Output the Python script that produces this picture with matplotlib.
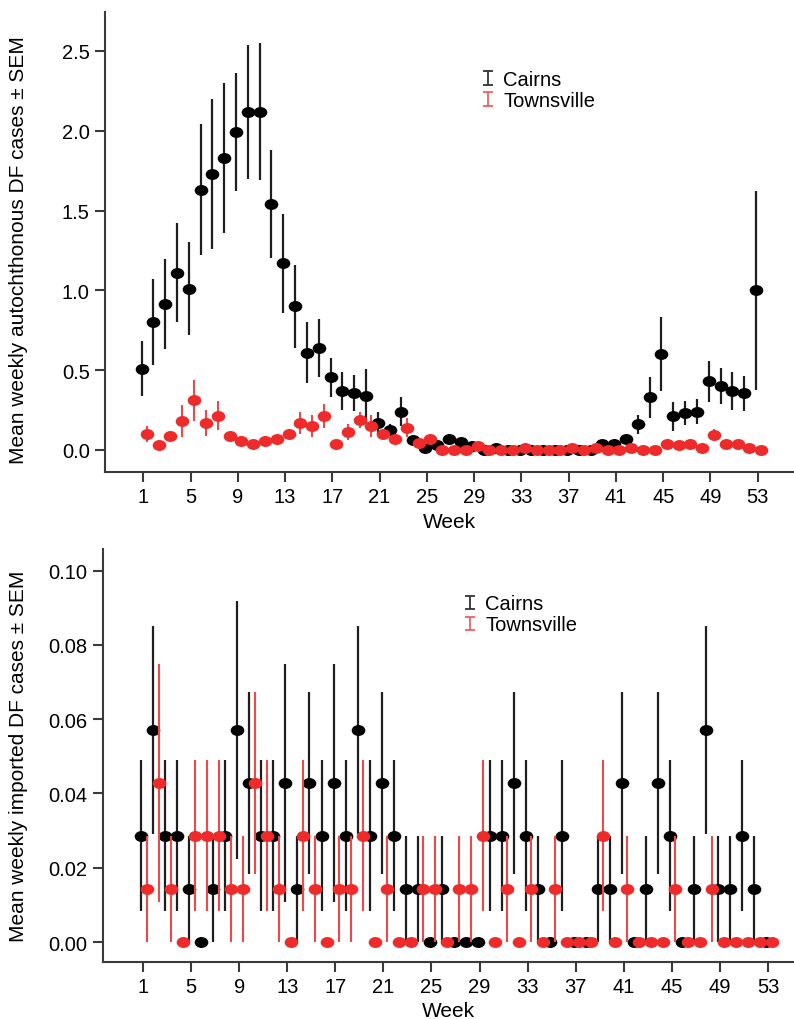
import numpy as np
import matplotlib
matplotlib.use('Agg')
import matplotlib.pyplot as plt
from matplotlib.path import Path
from matplotlib.transforms import Affine2D
from matplotlib.legend_handler import HandlerErrorbar
from matplotlib.container import ErrorbarContainer

plt.rcParams['font.family'] = ['Liberation Sans', 'DejaVu Sans']

weeks = np.arange(1, 54)
tick_weeks = list(range(1, 54, 4))

# Top panel: autochthonous cases
cairns_auto = [0.51, 0.80, 0.915, 1.11, 1.01, 1.63, 1.73, 1.83, 1.99, 2.12,
               2.12, 1.54, 1.17, 0.90, 0.61, 0.64, 0.455, 0.37, 0.357, 0.34,
               0.17, 0.125, 0.24, 0.06, 0.01, 0.03, 0.07, 0.05, 0.027, 0.0,
               0.01, 0.0, 0.0, 0.0, 0.0, 0.0, 0.0, 0.0, 0.0, 0.04,
               0.04, 0.07, 0.16, 0.33, 0.60, 0.21, 0.23, 0.24, 0.43, 0.40,
               0.37, 0.355, 1.00]
cairns_auto_sem = [0.17, 0.27, 0.28, 0.31, 0.29, 0.41, 0.47, 0.47, 0.37, 0.42,
                   0.43, 0.34, 0.31, 0.26, 0.19, 0.18, 0.12, 0.12, 0.11, 0.17,
                   0.07, 0.04, 0.09, 0.02, 0.01, 0.01, 0.02, 0.01, 0.01, 0.0,
                   0.01, 0.0, 0.0, 0.0, 0.0, 0.0, 0.01, 0.0, 0.0, 0.01,
                   0.02, 0.02, 0.06, 0.13, 0.23, 0.09, 0.075, 0.08, 0.13, 0.115,
                   0.12, 0.11, 0.625]
townsville_auto = [0.10, 0.03, 0.085, 0.18, 0.31, 0.17, 0.215, 0.085, 0.055, 0.04,
                   0.055, 0.07, 0.10, 0.17, 0.15, 0.215, 0.04, 0.11, 0.19, 0.15,
                   0.10, 0.07, 0.14, 0.045, 0.07, 0.0, 0.0, 0.0, 0.027, 0.0,
                   0.0, 0.0, 0.013, 0.0, 0.0, 0.0, 0.013, 0.0, 0.01, 0.0,
                   0.0, 0.015, 0.0, 0.0, 0.04, 0.03, 0.04, 0.015, 0.095, 0.04,
                   0.04, 0.015, 0.0]
townsville_auto_sem = [0.05, 0.01, 0.03, 0.10, 0.13, 0.08, 0.09, 0.03, 0.02, 0.015,
                       0.03, 0.02, 0.03, 0.07, 0.07, 0.075, 0.02, 0.05, 0.05, 0.07,
                       0.03, 0.02, 0.06, 0.01, 0.02, 0.0, 0.0, 0.0, 0.01, 0.0,
                       0.0, 0.0, 0.0, 0.0, 0.0, 0.0, 0.0, 0.0, 0.0, 0.0,
                       0.0, 0.0, 0.0, 0.0, 0.01, 0.01, 0.01, 0.0, 0.035, 0.01,
                       0.01, 0.0, 0.0]

# Bottom panel: imported cases
cairns_imp = [0.0286, 0.0571, 0.0286, 0.0286, 0.0143, 0.0, 0.0143, 0.0286, 0.0571, 0.0429,
              0.0286, 0.0286, 0.0429, 0.0143, 0.0429, 0.0286, 0.0429, 0.0286, 0.0571, 0.0286,
              0.0429, 0.0286, 0.0143, 0.0143, 0.0, 0.0143, 0.0, 0.0, 0.0, 0.0286,
              0.0286, 0.0429, 0.0286, 0.0143, 0.0, 0.0286, 0.0, 0.0, 0.0143, 0.0143,
              0.0429, 0.0, 0.0143, 0.0429, 0.0286, 0.0, 0.0143, 0.0571, 0.0143, 0.0143,
              0.0286, 0.0143, 0.0]
cairns_imp_sem = [0.0203, 0.028, 0.0203, 0.0203, 0.0143, 0.0, 0.0143, 0.0203, 0.0347, 0.0245,
                  0.0203, 0.0203, 0.032, 0.0143, 0.0245, 0.0203, 0.032, 0.0203, 0.028, 0.0203,
                  0.0245, 0.0203, 0.0143, 0.0143, 0.0, 0.0143, 0.0, 0.0, 0.0, 0.0203,
                  0.0203, 0.0245, 0.0203, 0.0143, 0.0, 0.0203, 0.0, 0.0, 0.0143, 0.0143,
                  0.0245, 0.0, 0.0143, 0.0245, 0.0203, 0.0, 0.0143, 0.028, 0.0143, 0.0143,
                  0.0203, 0.0143, 0.0]
townsville_imp = [0.0143, 0.0429, 0.0143, 0.0, 0.0286, 0.0286, 0.0286, 0.0143, 0.0143, 0.0429,
                  0.0286, 0.0143, 0.0, 0.0286, 0.0143, 0.0, 0.0143, 0.0143, 0.0286, 0.0,
                  0.0143, 0.0, 0.0, 0.0143, 0.0143, 0.0, 0.0143, 0.0143, 0.0286, 0.0,
                  0.0143, 0.0, 0.0143, 0.0, 0.0143, 0.0, 0.0, 0.0, 0.0286, 0.0,
                  0.0143, 0.0, 0.0, 0.0, 0.0143, 0.0, 0.0, 0.0143, 0.0, 0.0,
                  0.0, 0.0, 0.0]
townsville_imp_sem = [0.0143, 0.032, 0.0143, 0.0, 0.0203, 0.0203, 0.0203, 0.0143, 0.0143, 0.0245,
                      0.0203, 0.0143, 0.0, 0.0203, 0.0143, 0.0, 0.0143, 0.0143, 0.0203, 0.0,
                      0.0143, 0.0, 0.0, 0.0143, 0.0143, 0.0, 0.0143, 0.0143, 0.0203, 0.0,
                      0.0143, 0.0, 0.0143, 0.0, 0.0143, 0.0, 0.0, 0.0, 0.0203, 0.0,
                      0.0143, 0.0, 0.0, 0.0, 0.0143, 0.0, 0.0, 0.0143, 0.0, 0.0,
                      0.0, 0.0, 0.0]

series_names = ['Cairns', 'Townsville']

BLACK = '#000000'
BLACK_BAR = '#1e1e1e'
RED = '#ee2a2a'
RED_BAR = '#f04848'
SPINE = '#3a3a3a'

ellipse = Path.unit_circle().transformed(Affine2D().scale(1.0, 0.78))

W, H = 794, 1020
fig = plt.figure(figsize=(W / 100, H / 100), dpi=100)


def axes_box(left, top, bottom):
    return [left / W, 1 - bottom / H, 1 - left / W, (bottom - top) / H]


ax1 = fig.add_axes(axes_box(105, 13, 473))
ax2 = fig.add_axes(axes_box(103, 550, 963))

x = np.asarray(weeks, dtype=float)


def draw(ax, c_mean, c_sem, t_mean, t_sem, ms):
    ax.errorbar(x - 0.15, c_mean, yerr=c_sem, fmt='none', ecolor=BLACK_BAR,
                elinewidth=1.6, capsize=0, zorder=2)
    ax.plot(x - 0.15, c_mean, ls='none', marker=ellipse, ms=ms, color=BLACK,
            mec=BLACK, zorder=3)
    ax.errorbar(x + 0.3, t_mean, yerr=t_sem, fmt='none', ecolor=RED_BAR,
                elinewidth=1.5, capsize=0, zorder=4)
    ax.plot(x + 0.3, t_mean, ls='none', marker=ellipse, ms=ms, color=RED,
            mec=RED, zorder=5)
    # legend proxies with caps
    h1 = ax.errorbar([np.nan], [np.nan], yerr=[np.nan], fmt='none', ecolor='#333333',
                     elinewidth=1.3, capsize=3.4, capthick=1.3, label=series_names[0])
    h2 = ax.errorbar([np.nan], [np.nan], yerr=[np.nan], fmt='none', ecolor='#f06060',
                     elinewidth=1.3, capsize=3.4, capthick=1.3, label=series_names[1])
    return [h1, h2]


hs1 = draw(ax1, cairns_auto, cairns_auto_sem, townsville_auto, townsville_auto_sem, 8.8)
hs2 = draw(ax2, cairns_imp, cairns_imp_sem, townsville_imp, townsville_imp_sem, 8.8)

ax1.set_xlim(-2.24, 56.07)
ax1.set_ylim(-0.138, 2.744)
ax1.set_yticks([0.0, 0.5, 1.0, 1.5, 2.0, 2.5])
ax1.set_yticklabels(['0.0', '0.5', '1.0', '1.5', '2.0', '2.5'])

ax2.set_xlim(-2.33, 55.16)
ax2.set_ylim(-0.00538, 0.1058)
ax2.set_yticks([0.0, 0.02, 0.04, 0.06, 0.08, 0.10])
ax2.set_yticklabels(['0.00', '0.02', '0.04', '0.06', '0.08', '0.10'])

for ax in (ax1, ax2):
    ax.set_xticks(tick_weeks)
    ax.set_xticklabels([str(t) for t in tick_weeks])
    for s in ('top', 'right'):
        ax.spines[s].set_visible(False)
    for s in ('left', 'bottom'):
        ax.spines[s].set_color(SPINE)
        ax.spines[s].set_linewidth(1.5)
    ax.tick_params(direction='out', length=7, width=1.5, color=SPINE,
                   labelsize=14.5, pad=4)
    ax.set_xlabel('Week', fontsize=15)
    ax.set_facecolor('white')

ax1.set_ylabel('Mean weekly autochthonous DF cases ± SEM', fontsize=15)
ax2.set_ylabel('Mean weekly imported DF cases ± SEM', fontsize=15)
ax1.yaxis.set_label_coords(-0.112, 0.485)
ax2.yaxis.set_label_coords(-0.108, 0.5)
ax1.xaxis.set_label_coords(0.5, -0.088)
ax2.xaxis.set_label_coords(0.5, -0.095)

hmap = {ErrorbarContainer: HandlerErrorbar(xerr_size=0.3, yerr_size=0.34)}
ax1.legend(handles=hs1, loc='upper left', bbox_to_anchor=(0.549, 0.874),
           frameon=False, fontsize=14.5, handlelength=0.5, handletextpad=0.5,
           labelspacing=0.1, borderpad=0, borderaxespad=0, handler_map=hmap)
ax2.legend(handles=hs2, loc='upper left', bbox_to_anchor=(0.524, 0.89),
           frameon=False, fontsize=14.5, handlelength=0.5, handletextpad=0.5,
           labelspacing=0.1, borderpad=0, borderaxespad=0, handler_map=hmap)

fig.savefig('out.png', dpi=100, facecolor='white')
